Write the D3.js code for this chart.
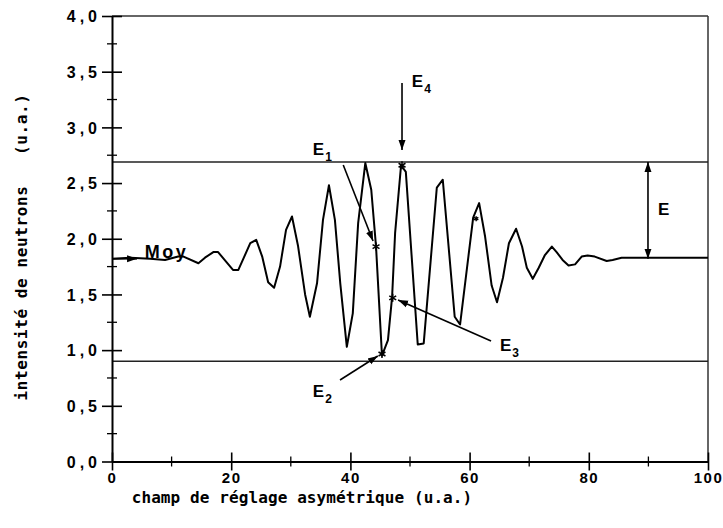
<!DOCTYPE html>
<html><head><meta charset="utf-8">
<script src="https://cdn.jsdelivr.net/npm/d3@7"></script>
<style>
html,body{margin:0;padding:0;background:#fff;}
svg{display:block;}
</style></head>
<body>
<script>
// ---- data ----
const fieldX = [0, 3.1, 6.4, 8.9, 11.1, 12.0, 14.5, 15.6, 17.0, 17.8, 20.3, 21.2, 23.2, 24.2, 25.2, 26.2, 27.2, 28.2, 29.2, 30.2, 31.2, 32.4, 33.2, 34.4, 35.4, 36.4, 37.4, 38.3, 39.4, 40.4, 41.3, 42.5, 43.5, 44.3, 45.3, 46.3, 47.0, 47.5, 48.5, 49.3, 51.3, 52.3, 54.5, 55.5, 57.5, 58.4, 60.6, 61.6, 62.6, 63.7, 64.6, 65.6, 66.6, 67.8, 68.8, 69.6, 70.6, 71.6, 72.6, 73.8, 74.6, 75.6, 76.6, 77.7, 78.8, 79.8, 81.0, 83.0, 84.0, 85.5, 87.4, 100];
const intensity = [1.82, 1.83, 1.82, 1.81, 1.84, 1.84, 1.78, 1.83, 1.88, 1.88, 1.72, 1.72, 1.96, 1.99, 1.84, 1.61, 1.56, 1.75, 2.08, 2.20, 1.94, 1.50, 1.30, 1.60, 2.17, 2.48, 2.17, 1.60, 1.03, 1.33, 2.14, 2.68, 2.44, 1.93, 0.95, 1.09, 1.48, 2.05, 2.66, 2.60, 1.05, 1.06, 2.46, 2.53, 1.30, 1.23, 2.19, 2.32, 2.02, 1.58, 1.43, 1.65, 1.96, 2.09, 1.93, 1.74, 1.64, 1.74, 1.85, 1.93, 1.88, 1.81, 1.76, 1.77, 1.84, 1.85, 1.84, 1.80, 1.81, 1.83, 1.83, 1.83];
const levelValues = [2.69, 0.90];          // upper / lower envelope lines
const meanValue = 1.82;
const xMajorTicks = [0, 20, 40, 60, 80, 100];
const xMinorTicks = [10, 30, 50, 70, 90];
const yMajorTicks = [0, 0.5, 1.0, 1.5, 2.0, 2.5, 3.0, 3.5, 4.0];
const yMinorTicks = [0.25, 0.75, 1.25, 1.75, 2.25, 2.75, 3.25, 3.75];
const yTickLabels = ["0,0","0,5","1,0","1,5","2,0","2,5","3,0","3,5","4,0"];
const starX = [44.3, 45.3, 47.1, 48.66, 61.1];
const starY = [1.93, 0.965, 1.47, 2.66, 2.18];
// annotation labels: name, subscript, label pos, arrow from, arrow to
const annNames = ["E","E","E","E"];
const annSubs  = ["1","2","3","4"];
const annLabelX = [33.7, 33.7, 65.1, 50.3];
const annLabelY = [2.75, 0.579, 0.992, 3.36];
const annFromX = [38.8, 38.26, 63.6, 48.66];
const annFromY = [2.662, 0.732, 1.082, 3.398];
const annToX   = [43.8, 44.6, 48.0, 48.66];
const annToY   = [1.980, 0.947, 1.450, 2.797];
const xTitle = "champ de réglage asymétrique (u.a.)";
const yTitle = "intensité de neutrons   (u.a.)";

// ---- layout ----
const W = 723, H = 528;
const x = d3.scaleLinear().domain([0, 100]).range([112, 708]);
const y = d3.scaleLinear().domain([0, 4]).range([461.5, 16]);

const svg = d3.select("body").append("svg").attr("width", W).attr("height", H);

const defs = svg.append("defs");
defs.append("marker").attr("id","ah").attr("viewBox","0 0 10 10")
  .attr("refX",10).attr("refY",5).attr("markerWidth",10).attr("markerHeight",10)
  .attr("markerUnits","userSpaceOnUse").attr("orient","auto-start-reverse")
  .append("path").attr("d","M0,1.5 L10,5 L0,8.5 Z").attr("fill","#000");

// frame (top & right)
svg.append("line").attr("x1", x(0)).attr("x2", x(100)).attr("y1", y(4)).attr("y2", y(4))
  .attr("stroke","#333").attr("stroke-width",1.5);
svg.append("line").attr("x1", x(100)).attr("x2", x(100)).attr("y1", y(4)).attr("y2", y(0))
  .attr("stroke","#333").attr("stroke-width",1.5);

// level lines
svg.selectAll("line.level").data(levelValues).join("line").attr("class","level")
  .attr("x1", x(0)).attr("x2", x(100)).attr("y1", d => y(d)).attr("y2", d => y(d))
  .attr("stroke","#222").attr("stroke-width",1.5);

// axes
const xAxis = svg.append("g").attr("transform", `translate(0,${y(0)})`)
  .call(d3.axisBottom(x).tickValues(xMajorTicks).tickSize(0).tickPadding(0).tickFormat(d3.format("d")));
xAxis.select(".domain").attr("stroke","#000").attr("stroke-width",2);
xAxis.selectAll(".tick line").attr("y1",-9).attr("y2",9).attr("stroke","#000").attr("stroke-width",1.6);
xAxis.selectAll(".tick text").attr("y",21).attr("dy",0)
  .attr("font-family","'Liberation Sans', Arial, sans-serif").attr("font-weight","bold")
  .attr("font-size",15).attr("fill","#000").attr("letter-spacing","1.5px");
svg.append("g").selectAll("line").data(xMinorTicks).join("line")
  .attr("x1", d => x(d)).attr("x2", d => x(d)).attr("y1", y(0)-5).attr("y2", y(0)+5)
  .attr("stroke","#000").attr("stroke-width",1.3);

const yAxis = svg.append("g").attr("transform", `translate(${x(0)},0)`)
  .call(d3.axisLeft(y).tickValues(yMajorTicks).tickSize(0).tickPadding(0)
    .tickFormat((d, i) => yTickLabels[i]));
yAxis.select(".domain").attr("stroke","#000").attr("stroke-width",2);
yAxis.selectAll(".tick line").attr("x1",-10).attr("x2",10).attr("stroke","#000").attr("stroke-width",1.6);
yAxis.selectAll(".tick text").attr("x",-11).attr("dy","0.36em")
  .attr("font-family","'Liberation Sans', Arial, sans-serif").attr("font-weight","bold")
  .attr("font-size",16).attr("fill","#000").attr("letter-spacing","4px");
svg.append("g").selectAll("line").data(yMinorTicks).join("line")
  .attr("x1", x(0)-5).attr("x2", x(0)+5).attr("y1", d => y(d)).attr("y2", d => y(d))
  .attr("stroke","#000").attr("stroke-width",1.3);

// curve
const pts = fieldX.map((v, i) => [v, intensity[i]]);
svg.append("path").datum(pts)
  .attr("d", d3.line().x(d => x(d[0])).y(d => y(d[1])))
  .attr("fill","none").attr("stroke","#000").attr("stroke-width",2).attr("stroke-linejoin","round");

// stars
const starG = svg.append("g");
starX.forEach((sx, i) => {
  const cx = x(sx), cy = y(starY[i]);
  const r = i === 4 ? 2.5 : 4;
  [90, 30, 150].forEach(a => {
    const t = a * Math.PI / 180;
    starG.append("line").attr("x1", cx - r*Math.cos(t)).attr("y1", cy - r*Math.sin(t))
      .attr("x2", cx + r*Math.cos(t)).attr("y2", cy + r*Math.sin(t))
      .attr("stroke","#000").attr("stroke-width",1.5);
  });
});

// annotation arrows + labels
const fontA = "'Liberation Sans', Arial, sans-serif";
annNames.forEach((n, i) => {
  svg.append("line").attr("x1", x(annFromX[i])).attr("y1", y(annFromY[i]))
    .attr("x2", x(annToX[i])).attr("y2", y(annToY[i]))
    .attr("stroke","#000").attr("stroke-width",1.6).attr("marker-end","url(#ah)");
  const t = svg.append("text").attr("x", x(annLabelX[i])).attr("y", y(annLabelY[i]))
    .attr("font-family", fontA).attr("font-weight","bold").attr("font-size",17).attr("fill","#000");
  t.append("tspan").text(n);
  t.append("tspan").attr("dx",1).attr("dy",6).attr("font-size",12).text(annSubs[i]);
});

// Moy
svg.append("line").attr("x1", x(0)).attr("y1", y(meanValue)).attr("x2", x(4.2)).attr("y2", y(meanValue))
  .attr("stroke","#000").attr("stroke-width",1.6).attr("marker-end","url(#ah)");
svg.append("text").attr("x", x(5.5)).attr("y", y(1.827)).text("Moy")
  .attr("font-family", fontA).attr("font-weight","bold").attr("font-size",18)
  .attr("letter-spacing","2.5px").attr("fill","#000");

// E double arrow
svg.append("line").attr("x1", x(89.93)).attr("x2", x(89.93)).attr("y1", y(meanValue)).attr("y2", y(levelValues[0]))
  .attr("stroke","#000").attr("stroke-width",1.6)
  .attr("marker-start","url(#ah)").attr("marker-end","url(#ah)");
svg.append("text").attr("x", x(91.6)).attr("y", y(2.213)).text("E")
  .attr("font-family", fontA).attr("font-weight","bold").attr("font-size",17).attr("fill","#000");

// axis titles
const fontT = "'DejaVu Sans Mono', monospace";
svg.append("text").attr("x", 302).attr("y", 503).attr("text-anchor","middle")
  .attr("font-family", fontT).attr("font-weight","bold").attr("font-size",16)
  .attr("letter-spacing","0.1px").attr("fill","#000").text(xTitle);
svg.append("text").attr("transform","translate(27,247) rotate(-90)").attr("text-anchor","middle")
  .attr("font-family", fontT).attr("font-weight","bold").attr("font-size",16)
  .attr("letter-spacing","0.6px").style("white-space","pre")
  .attr("fill","#000").text(yTitle);
</script>
</body></html>
